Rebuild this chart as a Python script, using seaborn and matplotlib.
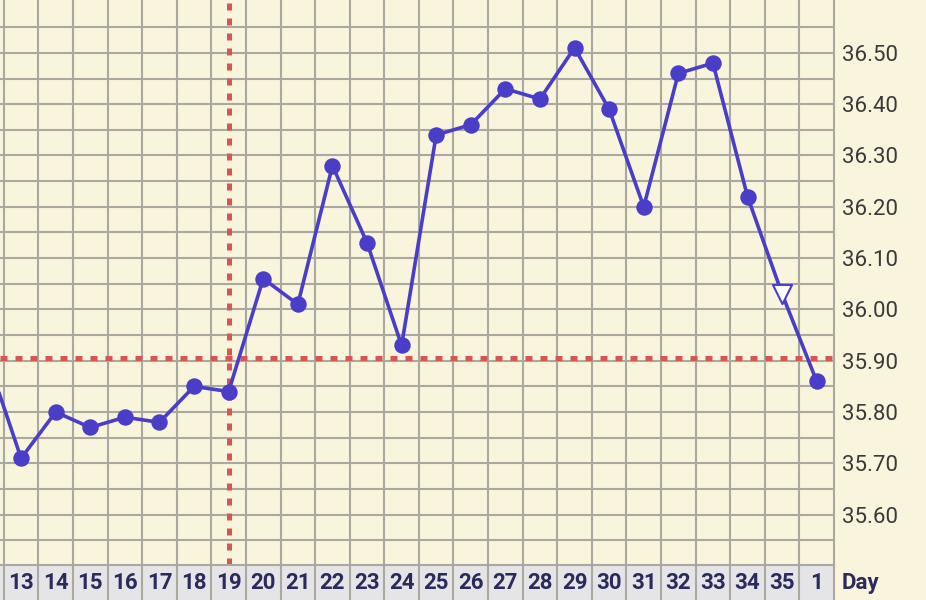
import numpy as np
import pandas as pd
import seaborn as sns
from matplotlib import pyplot as plt

# cycle days shown on the chart (12 is cut off at the left edge)
days = ["12", "13", "14", "15", "16", "17", "18", "19", "20", "21", "22", "23",
        "24", "25", "26", "27", "28", "29", "30", "31", "32", "33", "34", "35", "1"]
temps = [35.91, 35.71, 35.80, 35.77, 35.79, 35.78, 35.85, 35.84, 36.06, 36.01,
         36.28, 36.13, 35.93, 36.34, 36.36, 36.43, 36.41, 36.51, 36.39, 36.20,
         36.46, 36.48, 36.22, 36.03, 35.86]
open_marker_day = "35"
ovulation_day = "19"
coverline = 35.905
temp_labels = [35.60, 35.70, 35.80, 35.90, 36.00, 36.10, 36.20, 36.30, 36.40, 36.50]

BG = "#f9f5dc"
GRID = "#aaa99f"
LINE = "#4a3dc8"
RED = "#d65656"
NAVY = "#2b2a5c"

sns.set_theme(style="white")
plt.rcParams["font.family"] = ["Roboto", "DejaVu Sans"]

df = pd.DataFrame({"day": days, "temp": temps})
df["pos"] = np.arange(len(df))
filled = df[df["day"] != open_marker_day]
hollow = df[df["day"] == open_marker_day]

fig = plt.figure(figsize=(9.26, 6.0), dpi=100)
fig.patch.set_facecolor(BG)

band_h = 35 / 600
right = 834 / 926
ax = fig.add_axes([0, band_h, right, 1 - band_h])
band = fig.add_axes([0, 0, right, band_h], sharex=ax)

ax.set_facecolor(BG)

# coverline and ovulation marker
ax.axhline(coverline, color=RED, linewidth=3.6, linestyle=(0, (1.4, 1.6)), zorder=2)
ax.axvline(days.index(ovulation_day), color=RED, linewidth=3.6, linestyle=(0, (1.4, 1.6)), zorder=2)

sns.lineplot(data=df, x="pos", y="temp", ax=ax, color=LINE, linewidth=2.6, zorder=3)
sns.scatterplot(data=filled, x="pos", y="temp", ax=ax, color=LINE, s=140,
                edgecolor=LINE, linewidth=0, zorder=4)
sns.scatterplot(data=hollow, x="pos", y="temp", ax=ax, marker="v", s=190,
                facecolor="white", edgecolor=LINE, linewidth=1.5, zorder=4)
ax.set_xlabel("")
ax.set_ylabel("")

# grid: one column per day, one row per 0.05 degree
ax.set_xticks(np.arange(0.5, len(days) - 1, 1))
ax.set_yticks(temp_labels)
ax.set_yticklabels([f"{t:.2f}" for t in temp_labels])
ax.set_yticks(np.round(np.arange(35.55, 36.6, 0.1), 2), minor=True)
ax.grid(True, which="both", color=GRID, linewidth=1.5)
ax.set_axisbelow(True)

# limits last: set_yticks widens the view otherwise
xmin, xmax = 0.39, len(days) - 0.5
ax.set_xlim(xmin, xmax)
ax.set_ylim(35.502, 36.603)

ax.yaxis.tick_right()
ax.tick_params(axis="y", which="both", length=0, pad=6, labelsize=16, labelcolor="#3a3a3a")
ax.tick_params(axis="x", which="both", length=0, labelbottom=False)
for side in ["left", "top", "bottom"]:
    ax.spines[side].set_visible(False)
ax.spines["right"].set_color(GRID)
ax.spines["right"].set_linewidth(1.5)

# day labels band under the grid
band.set_facecolor("#e5e5e8")
band.set_ylim(0, 1)
band.set_yticks([])
band.grid(True, axis="x", color=GRID, linewidth=1.5)
band.tick_params(axis="x", length=0, labelbottom=False)
for side in ["left", "bottom"]:
    band.spines[side].set_visible(False)
for side in ["top", "right"]:
    band.spines[side].set_color(GRID)
    band.spines[side].set_linewidth(1.5)
for i, d in enumerate(days):
    if i < xmin:
        continue
    band.text(i, 0.48, d, ha="center", va="center", fontsize=16,
              fontweight="bold", color=NAVY)

fig.text(842 / 926, 17 / 600, "Day", ha="left", va="center", fontsize=16,
         fontweight="bold", color=NAVY)

fig.savefig("out.png", dpi=100, facecolor=BG)
